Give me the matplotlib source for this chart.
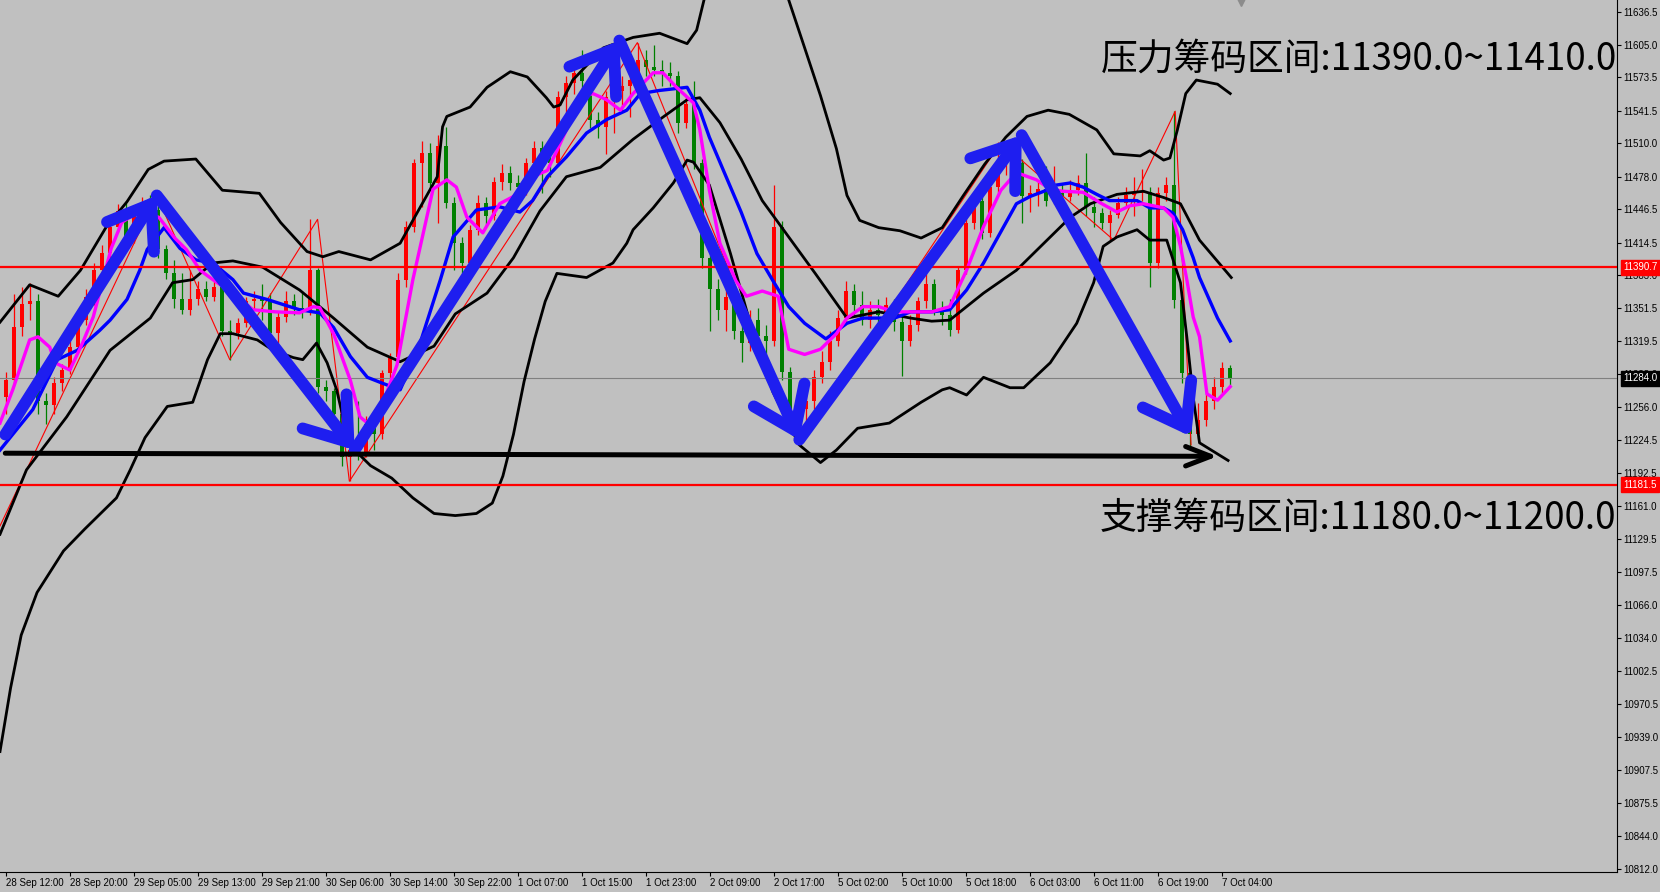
import matplotlib
matplotlib.use('Agg')
import matplotlib.pyplot as plt
from matplotlib.patches import FancyArrowPatch, ArrowStyle

# H1 candles, bar 0 = 28 Sep 12:00
OPEN = [11266, 11282, 11333, 11356, 11358, 11262, 11258, 11280, 11292, 11314,
        11340, 11362, 11388, 11405, 11430, 11445, 11420, 11440, 11452, 11446,
        11408, 11385, 11360, 11350, 11360, 11370, 11362, 11372, 11330, 11328,
        11337, 11358, 11360, 11358, 11328, 11343, 11358, 11352, 11350, 11388,
        11276, 11272, 11250, 11208, 11215, 11212, 11240, 11230, 11289, 11305,
        11379, 11430, 11491, 11501, 11472, 11508, 11453, 11414, 11395, 11427,
        11453, 11440, 11473, 11482, 11472, 11468, 11491, 11506, 11495, 11491,
        11555, 11568, 11578, 11570, 11533, 11526, 11555, 11560, 11565, 11571,
        11590, 11584, 11581, 11578, 11575, 11530, 11548, 11491, 11400, 11370,
        11350, 11362, 11330, 11318, 11340, 11325, 11320, 11430, 11290, 11245,
        11255, 11262, 11285, 11300, 11320, 11342, 11368, 11355, 11340, 11350,
        11345, 11355, 11338, 11320, 11335, 11358, 11375, 11350, 11345, 11331,
        11388, 11433, 11455, 11424, 11468, 11490, 11498, 11491, 11459, 11462,
        11466, 11455, 11462, 11458, 11465, 11472, 11449, 11443, 11433, 11441,
        11453, 11460, 11462, 11463, 11395, 11462, 11470, 11359, 11289, 11230,
        11244, 11262, 11276, 11294]
HIGH = [11290, 11365, 11372, 11376, 11365, 11270, 11285, 11298, 11320, 11348,
        11370, 11395, 11412, 11438, 11452, 11455, 11447, 11458, 11460, 11452,
        11412, 11398, 11385, 11388, 11378, 11378, 11378, 11375, 11340, 11342,
        11362, 11368, 11375, 11366, 11348, 11368, 11365, 11368, 11437, 11390,
        11282, 11275, 11252, 11225, 11262, 11248, 11245, 11292, 11308, 11385,
        11435, 11495, 11512, 11510, 11518, 11526, 11458, 11420, 11432, 11460,
        11458, 11478, 11490, 11488, 11480, 11496, 11512, 11512, 11515, 11560,
        11575, 11590, 11600, 11572, 11540, 11560, 11570, 11575, 11595, 11607,
        11600, 11605, 11590, 11588, 11580, 11555, 11570, 11495, 11410, 11380,
        11372, 11368, 11345, 11350, 11352, 11335, 11470, 11435, 11295, 11265,
        11275, 11292, 11310, 11330, 11350, 11378, 11375, 11368, 11358, 11360,
        11362, 11360, 11345, 11345, 11362, 11385, 11380, 11358, 11360, 11392,
        11440, 11460, 11460, 11474, 11511, 11505, 11506, 11495, 11470, 11475,
        11488, 11488, 11472, 11475, 11480, 11501, 11458, 11448, 11446, 11458,
        11468, 11478, 11485, 11468, 11468, 11478, 11541, 11362, 11292, 11260,
        11270, 11285, 11300, 11297]
LOW = [11250, 11278, 11325, 11340, 11250, 11240, 11250, 11272, 11288, 11310,
       11335, 11355, 11380, 11398, 11425, 11410, 11414, 11432, 11438, 11400,
       11380, 11352, 11346, 11345, 11355, 11358, 11358, 11325, 11302, 11322,
       11333, 11350, 11340, 11324, 11318, 11338, 11345, 11342, 11345, 11270,
       11262, 11240, 11200, 11185, 11205, 11208, 11215, 11226, 11283, 11300,
       11372, 11425, 11449, 11465, 11433, 11448, 11388, 11385, 11390, 11422,
       11432, 11436, 11465, 11465, 11455, 11460, 11485, 11462, 11478, 11488,
       11530, 11558, 11560, 11525, 11515, 11500, 11520, 11540, 11535, 11566,
       11575, 11575, 11565, 11565, 11520, 11525, 11485, 11390, 11330, 11340,
       11330, 11322, 11300, 11310, 11315, 11300, 11315, 11282, 11238, 11220,
       11240, 11255, 11280, 11292, 11315, 11338, 11345, 11335, 11332, 11338,
       11340, 11330, 11286, 11315, 11330, 11352, 11345, 11335, 11325, 11328,
       11384, 11428, 11418, 11420, 11462, 11480, 11485, 11433, 11444, 11450,
       11450, 11452, 11455, 11455, 11460, 11440, 11430, 11428, 11417, 11438,
       11450, 11440, 11455, 11372, 11390, 11455, 11352, 11280, 11215, 11226,
       11238, 11255, 11270, 11278]
CLOSE = [11282, 11333, 11356, 11358, 11262, 11258, 11280, 11292, 11314, 11340,
         11362, 11388, 11405, 11430, 11445, 11420, 11440, 11452, 11446, 11408,
         11385, 11360, 11350, 11360, 11370, 11362, 11372, 11330, 11328, 11337,
         11358, 11360, 11358, 11328, 11343, 11358, 11352, 11350, 11388, 11276,
         11272, 11250, 11208, 11215, 11212, 11240, 11230, 11289, 11305, 11379,
         11430, 11491, 11501, 11472, 11508, 11453, 11414, 11395, 11427, 11453,
         11440, 11473, 11482, 11472, 11468, 11491, 11506, 11495, 11491, 11555,
         11568, 11578, 11570, 11533, 11526, 11555, 11560, 11565, 11571, 11590,
         11584, 11581, 11578, 11575, 11530, 11548, 11491, 11400, 11370, 11350,
         11362, 11330, 11318, 11340, 11325, 11320, 11430, 11290, 11245, 11255,
         11262, 11285, 11300, 11320, 11342, 11368, 11355, 11340, 11350, 11345,
         11355, 11338, 11320, 11335, 11358, 11375, 11350, 11345, 11331, 11388,
         11433, 11455, 11424, 11468, 11490, 11498, 11491, 11459, 11462, 11466,
         11455, 11462, 11458, 11465, 11472, 11449, 11443, 11433, 11441, 11453,
         11460, 11462, 11463, 11395, 11462, 11470, 11359, 11289, 11230, 11244,
         11262, 11276, 11294, 11284]

TIME_LABELS = ['28 Sep 12:00', '28 Sep 20:00', '29 Sep 05:00', '29 Sep 13:00',
               '29 Sep 21:00', '30 Sep 06:00', '30 Sep 14:00', '30 Sep 22:00',
               '1 Oct 07:00', '1 Oct 15:00', '1 Oct 23:00', '2 Oct 09:00',
               '2 Oct 17:00', '5 Oct 02:00', '5 Oct 10:00', '5 Oct 18:00',
               '6 Oct 03:00', '6 Oct 11:00', '6 Oct 19:00', '7 Oct 04:00']
Y_TICKS = [11636.5, 11605.0, 11573.5, 11541.5, 11510.0, 11478.0, 11446.5,
           11414.5, 11383.0, 11351.5, 11319.5, 11288.0, 11256.0, 11224.5,
           11192.5, 11161.0, 11129.5, 11097.5, 11066.0, 11034.0, 11002.5,
           10970.5, 10939.0, 10907.5, 10875.5, 10844.0, 10812.0]

# indicator lines: (bar, price)
MA_FAST = [(-0.75, 11241), (0.84, 11273), (2.96, 11321), (4.01, 11324), (5.47, 11314),
           (6.13, 11299), (7.98, 11292), (9.57, 11318), (10.9, 11343), (11.69, 11366),
           (13.15, 11409), (14.47, 11434), (16.45, 11444), (19.1, 11439), (21.09, 11419),
           (22.54, 11408), (24.26, 11388), (25.85, 11379), (28.36, 11366), (30.88, 11350),
           (33.66, 11348), (36.7, 11347), (38.42, 11353), (39.22, 11352), (40.94, 11327),
           (43.05, 11282), (44.25, 11247), (45.17, 11241), (46.89, 11256), (48.88, 11297),
           (50.86, 11379), (53.38, 11466), (55.1, 11475), (56.29, 11468), (57.61, 11439),
           (59.6, 11424), (61.71, 11452), (63.43, 11459), (65.82, 11478), (67.67, 11484),
           (68.86, 11503), (70.05, 11523), (71.77, 11554), (73.36, 11558), (75.08, 11552),
           (76.8, 11542), (78.39, 11558), (80.9, 11578), (82.1, 11578), (83.81, 11564),
           (85.93, 11549), (86.73, 11523), (87.92, 11465), (89.24, 11414), (91.23, 11378),
           (92.55, 11363), (94.53, 11368), (96.52, 11363), (97.84, 11312), (99.83, 11307),
           (101.81, 11312), (103.8, 11327), (105.12, 11342), (107.11, 11353), (109.09, 11353),
           (111.08, 11348), (113.06, 11348), (115.71, 11348), (117.96, 11353), (120.07, 11388),
           (122.19, 11430), (124.36, 11465), (126.3, 11482), (128.81, 11475), (130.53, 11466),
           (132.12, 11464), (134.64, 11463), (136.75, 11453), (138.87, 11444), (140.46, 11450),
           (142.18, 11452), (144.7, 11448), (145.88, 11439), (146.81, 11411), (147.6, 11379),
           (148.4, 11343), (149.19, 11324), (150.12, 11269), (151.44, 11263), (153.03, 11276)]
MA_SLOW = [(-0.75, 11215), (3.35, 11254), (6.4, 11302), (8.91, 11311), (11.69, 11330),
           (13.01, 11340), (15.13, 11360), (16.72, 11388), (17.65, 11408), (19.76, 11429),
           (21.75, 11409), (23.73, 11398), (25.85, 11395), (28.36, 11379), (29.69, 11366),
           (32.6, 11360), (36.7, 11350), (39.22, 11347), (40.94, 11333), (43.05, 11305),
           (45.17, 11285), (47.16, 11279), (49.27, 11273), (51.52, 11312), (54.3, 11379),
           (55.89, 11420), (58.8, 11446), (61.71, 11449), (64.23, 11444), (65.82, 11455),
           (67.67, 11478), (70.05, 11497), (72.57, 11520), (75.08, 11533), (77.6, 11542),
           (79.31, 11558), (81.7, 11561), (85.14, 11564), (86.73, 11542), (87.92, 11516),
           (89.9, 11480), (91.89, 11444), (93.87, 11404), (95.86, 11378), (97.84, 11353),
           (99.83, 11337), (102.48, 11322), (105.12, 11337), (107.11, 11342), (109.09, 11342),
           (111.08, 11342), (113.06, 11348), (115.71, 11348), (117.96, 11350), (120.07, 11369),
           (122.19, 11395), (126.3, 11452), (128.02, 11459), (129.74, 11464), (131.32, 11470),
           (133.04, 11472), (134.64, 11468), (136.35, 11461), (137.94, 11455), (141.38, 11455),
           (142.97, 11448), (144.7, 11448), (145.88, 11443), (147.08, 11427), (148.4, 11400),
           (149.19, 11381), (151.44, 11342), (153.03, 11320)]
BB_UP = [(-0.75, 11338), (2.96, 11374), (6.53, 11363), (9.31, 11388), (12.48, 11429),
         (15.13, 11454), (17.78, 11485), (19.76, 11493), (23.73, 11495), (27.04, 11465),
         (31.67, 11462), (34.32, 11434), (37.63, 11406), (39.61, 11401), (41.6, 11406),
         (45.57, 11398), (49.27, 11414), (50.86, 11436), (53.91, 11478), (54.57, 11526),
         (55.1, 11536), (58.01, 11545), (60.13, 11564), (63.04, 11579), (65.16, 11574),
         (67.54, 11554), (68.46, 11545), (69.26, 11547), (70.85, 11571), (74.68, 11602),
         (78.39, 11612), (81.7, 11616), (85.14, 11606), (86.33, 11619), (87.25, 11648),
         (88.5, 11690), (92.0, 11720), (96.0, 11690), (97.84, 11648), (99.83, 11602),
         (101.81, 11556), (103.8, 11505), (105.12, 11460), (106.71, 11436), (109.09, 11429),
         (111.74, 11426), (114.39, 11419), (117.03, 11429), (119.68, 11460), (122.33, 11490),
         (124.97, 11516), (127.62, 11536), (130.27, 11542), (132.91, 11538), (136.35, 11523),
         (138.47, 11500), (141.78, 11498), (142.97, 11503), (144.7, 11494), (145.49, 11496),
         (146.42, 11523), (147.47, 11558), (148.79, 11571), (151.44, 11567), (153.03, 11558)]
BB_MID = [(-0.75, 11134), (2.56, 11196), (7.59, 11247), (13.01, 11311), (18.04, 11342),
          (20.82, 11376), (23.34, 11379), (25.85, 11395), (28.36, 11397), (32.07, 11391),
          (36.7, 11369), (40.94, 11342), (45.17, 11314), (49.27, 11300), (53.5, 11315),
          (56.16, 11346), (60.13, 11366), (63.43, 11400), (66.74, 11445), (70.05, 11478),
          (74.29, 11487), (78.39, 11514), (81.7, 11533), (85.14, 11552), (86.73, 11554),
          (89.24, 11530), (91.89, 11495), (94.53, 11455), (97.84, 11420), (101.15, 11385),
          (105.12, 11342), (109.09, 11348), (113.06, 11342), (115.71, 11339), (117.96, 11340),
          (122.19, 11366), (126.3, 11388), (130.53, 11420), (133.04, 11439), (135.56, 11452),
          (138.87, 11461), (142.18, 11464), (144.7, 11458), (146.81, 11452), (149.19, 11417),
          (153.16, 11381)]
BB_LOW = [(-0.75, 10925), (0.57, 10986), (1.9, 11037), (3.88, 11078), (7.19, 11118),
          (9.84, 11139), (13.81, 11169), (15.53, 11196), (17.38, 11227), (20.16, 11257),
          (23.34, 11261), (25.19, 11302), (26.78, 11327), (28.36, 11327), (31.41, 11321),
          (33.39, 11311), (35.91, 11304), (37.1, 11302), (38.82, 11318), (40.14, 11299),
          (41.33, 11273), (42.92, 11220), (45.57, 11200), (48.22, 11188), (50.86, 11169),
          (53.51, 11154), (56.16, 11152), (58.8, 11154), (60.79, 11164), (62.11, 11190),
          (63.43, 11230), (64.76, 11281), (66.08, 11322), (67.4, 11358), (68.86, 11385),
          (72.57, 11381), (75.87, 11395), (77.6, 11414), (78.39, 11427), (80.9, 11448),
          (83.42, 11472), (85.14, 11494), (85.93, 11492), (87.92, 11470), (90.56, 11404),
          (93.21, 11332), (95.86, 11271), (99.16, 11220), (101.81, 11203), (103.8, 11215),
          (106.45, 11236), (110.42, 11241), (114.39, 11261), (117.03, 11273), (117.96, 11275),
          (120.07, 11268), (122.19, 11285), (125.5, 11275), (127.22, 11275), (130.53, 11299),
          (133.84, 11337), (135.95, 11376), (137.15, 11411), (138.87, 11420), (141.38, 11427),
          (142.97, 11417), (145.09, 11417), (146.81, 11376), (147.6, 11324), (148.4, 11266),
          (149.19, 11222), (152.76, 11205)]
ZIGZAG = [(-0.75, 11142), (18.84, 11460), (27.97, 11302), (38.95, 11437), (42.92, 11185),
          (78.92, 11607), (99.16, 11220), (124.36, 11511), (138.47, 11417), (146.15, 11541),
          (148.13, 11220)]

# hand-drawn trend arrows (bar, price)
WAVE = [(-0.09, 11230), (18.84, 11460), (43.58, 11215), (76.67, 11609),
        (99.16, 11225), (126.96, 11518), (148.13, 11228)]
FLOOR_ARROW = [(-0.09, 11212), (151.44, 11209)]

RESIST_LEVEL, SUPPORT_LEVEL, LAST_PRICE = 11390.7, 11181.5, 11284.0
RESIST_TEXT = '压力筹码区间:11390.0~11410.0'
SUPPORT_TEXT = '支撑筹码区间:11180.0~11200.0'

BG = '#C0C0C0'
UP, DOWN = '#FF0000', '#008000'
ARROW_BLUE = '#1E1EF0'
AXIS_FONT = 'Liberation Sans'


def arrow(ax, p0, p1, color, lw, hl, hw):
    st = ArrowStyle('->', head_length=hl, head_width=hw)
    a = FancyArrowPatch(p0, p1, arrowstyle=st, mutation_scale=1, lw=lw,
                        color=color, capstyle='round', joinstyle='round',
                        shrinkA=0, shrinkB=0, zorder=8)
    ax.add_patch(a)


fig = plt.figure(figsize=(16.6, 8.92), dpi=100, facecolor=BG)
ax = fig.add_axes([0, 20 / 892, 1617 / 1660, 872 / 892], facecolor=BG)

# candles
for i, (o, h, l, c) in enumerate(zip(OPEN, HIGH, LOW, CLOSE)):
    col = UP if c >= o else DOWN
    ax.vlines(i, l, h, color=col, lw=0.9, zorder=2)
    ax.bar(i, max(abs(c - o), 1.0), bottom=min(o, c), width=0.6, color=col,
           lw=0, zorder=2)

ax.plot(*zip(*ZIGZAG), color='#FF0000', lw=0.8, zorder=3)
for band in (BB_UP, BB_MID, BB_LOW):
    ax.plot(*zip(*band), color='black', lw=2.0, zorder=4)
ax.plot(*zip(*MA_SLOW), color='#0000FF', lw=2.4, zorder=5)
ax.plot(*zip(*MA_FAST), color='#FF00FF', lw=2.4, zorder=5)

ax.axhline(LAST_PRICE, color='#808080', lw=0.8, zorder=3)
ax.axhline(RESIST_LEVEL, color='#FF0000', lw=1.6, zorder=6)
ax.axhline(SUPPORT_LEVEL, color='#FF0000', lw=1.6, zorder=6)

for p0, p1 in zip(WAVE[:-1], WAVE[1:]):
    arrow(ax, p0, p1, ARROW_BLUE, 8.5, 28, 20)
arrow(ax, FLOOR_ARROW[0], FLOOR_ARROW[1], 'black', 3.6, 18, 7)

cjk = ['Noto Sans CJK SC', 'DejaVu Sans']
ax.text(136.9, 11591, RESIST_TEXT, fontsize=26.5, family=cjk, va='center',
        ha='left', zorder=9)
ax.text(136.7, 11149, SUPPORT_TEXT, fontsize=26.5, family=cjk, va='center',
        ha='left', zorder=9)

# axes
ax.set_xlim(-0.75, 201.375)
ax.set_ylim(10809.1, 11648)
for s in ('top', 'left'):
    ax.spines[s].set_visible(False)
ax.spines['right'].set_color('black')
ax.spines['bottom'].set_color('black')
ax.yaxis.tick_right()
ax.set_yticks(Y_TICKS)
ax.set_yticklabels([f'{v:.1f}' for v in Y_TICKS], family=AXIS_FONT)
ax.set_xticks(range(0, 8 * len(TIME_LABELS), 8))
ax.set_xticklabels(TIME_LABELS, ha='left', family=AXIS_FONT)
ax.tick_params(axis='both', labelsize=7, length=3, width=0.8, colors='black',
               pad=1.5)

ytr = ax.get_yaxis_transform()
for val, fc in ((RESIST_LEVEL, '#FF0000'), (SUPPORT_LEVEL, '#FF0000'),
                (LAST_PRICE, 'black')):
    ax.text(1.004, val, f'{val:.1f}', transform=ytr, fontsize=7, color='white',
            family=AXIS_FONT, ha='left', va='center', clip_on=False, zorder=10,
            bbox=dict(boxstyle='square,pad=0.25', fc=fc, ec=fc))

# chart-shift marker at the top
ax.plot([154.4], [1.0], marker='v', ms=8, color='#8C8C8C',
        transform=ax.get_xaxis_transform(), clip_on=False, zorder=10)

fig.savefig('out.png', dpi=100, facecolor=BG)
